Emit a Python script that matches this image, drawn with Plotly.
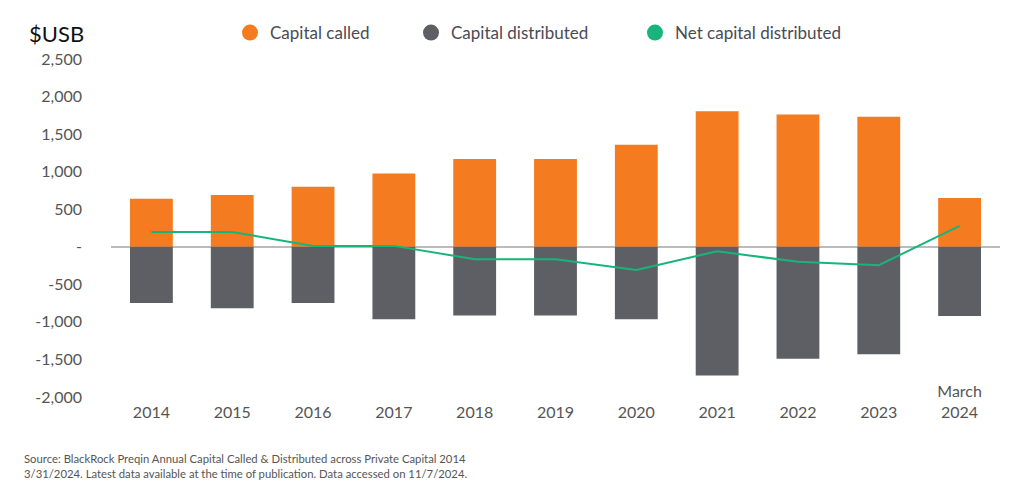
import plotly.graph_objects as go

categories = ["2014", "2015", "2016", "2017", "2018", "2019", "2020", "2021", "2022", "2023", "March 2024"]
tick_labels = ["\u00a0<br>2014", "\u00a0<br>2015", "\u00a0<br>2016", "\u00a0<br>2017", "\u00a0<br>2018",
               "\u00a0<br>2019", "\u00a0<br>2020", "\u00a0<br>2021", "\u00a0<br>2022", "\u00a0<br>2023",
               "March<br>2024"]
capital_called = [640, 690, 800, 975, 1170, 1170, 1360, 1805, 1760, 1730, 650]
capital_distributed = [-750, -820, -750, -965, -915, -915, -965, -1715, -1490, -1430, -920]
net_distributed = [197, 197, 12, 12, -165, -165, -308, -60, -200, -245, 277]

y_tickvals = [2500, 2000, 1500, 1000, 500, 0, -500, -1000, -1500, -2000]
y_ticktext = ["2,500", "2,000", "1,500", "1,000", "500", "-", "-500", "-1,000", "-1,500", "-2,000"]

ORANGE = "#F47B20"
GREY = "#5E5F64"
GREEN = "#17B47B"
FONT = "Lato, 'Open Sans', sans-serif"

fig = go.Figure()
fig.add_trace(go.Bar(x=categories, y=capital_called, marker=dict(color=ORANGE, line=dict(width=0)),
                     name="Capital called", showlegend=False))
fig.add_trace(go.Bar(x=categories, y=capital_distributed, marker=dict(color=GREY, line=dict(width=0)),
                     name="Capital distributed", showlegend=False))
fig.add_trace(go.Scatter(x=categories, y=net_distributed, mode="lines", line=dict(color=GREEN, width=2),
                         name="Net capital distributed", showlegend=False))

# legend entries (circle markers), one legend each to place them like the original
legend_items = [("Capital called", ORANGE, "legend", 230),
                ("Capital distributed", GREY, "legend2", 411),
                ("Net capital distributed", GREEN, "legend3", 635)]
for name, color, lg, _ in legend_items:
    fig.add_trace(go.Scatter(x=[None], y=[None], mode="markers", name=name,
                             marker=dict(color=color, size=16, symbol="circle"),
                             legend=lg, showlegend=True))

legend_style = dict(orientation="h", xref="container", yref="container", xanchor="left",
                    yanchor="middle", y=1 - 33 / 499, bgcolor="rgba(0,0,0,0)",
                    font=dict(family=FONT, size=17, color="#4A4B55"))
layout_legends = {}
for name, color, lg, px in legend_items:
    layout_legends[lg] = dict(legend_style, x=px / 1024)

fig.update_layout(
    width=1024, height=499,
    margin=dict(l=111, r=24, t=59, b=102, autoexpand=False),
    plot_bgcolor="white", paper_bgcolor="white",
    barmode="relative", bargap=0.47,
    font=dict(family=FONT, color="#555555"),
    title=dict(text="$USB", xref="container", yref="container", x=29 / 1024, xanchor="left",
               y=1 - 34 / 499, yanchor="middle", font=dict(family=FONT, size=22, color="#111111")),
    xaxis=dict(type="category", range=[-0.5, 10.5], tickvals=categories, ticktext=tick_labels,
               showgrid=False, showline=False, zeroline=False, ticks="",
               anchor="free", position=0.05,
               tickfont=dict(family=FONT, size=16, color="#555555")),
    yaxis=dict(range=[-2000, 2500], tickvals=y_tickvals, ticktext=y_ticktext,
               showgrid=False, showline=False, zeroline=True, zerolinecolor="#BBBBBB", zerolinewidth=2,
               ticks="", ticklabelstandoff=28,
               tickfont=dict(family=FONT, size=16, color="#555555")),
    annotations=[dict(
        text="Source: BlackRock Preqin Annual Capital Called &amp; Distributed across Private Capital 2014<br>"
             "3/31/2024. Latest data available at the time of publication. Data accessed on 11/7/2024.",
        xref="paper", yref="paper", x=(22 - 111) / 889, y=(397 - 465.5) / 338,
        xanchor="left", yanchor="middle", align="left", showarrow=False,
        font=dict(family=FONT, size=11.3, color="#555555"))],
    **layout_legends,
)

fig.write_html("out.html")
